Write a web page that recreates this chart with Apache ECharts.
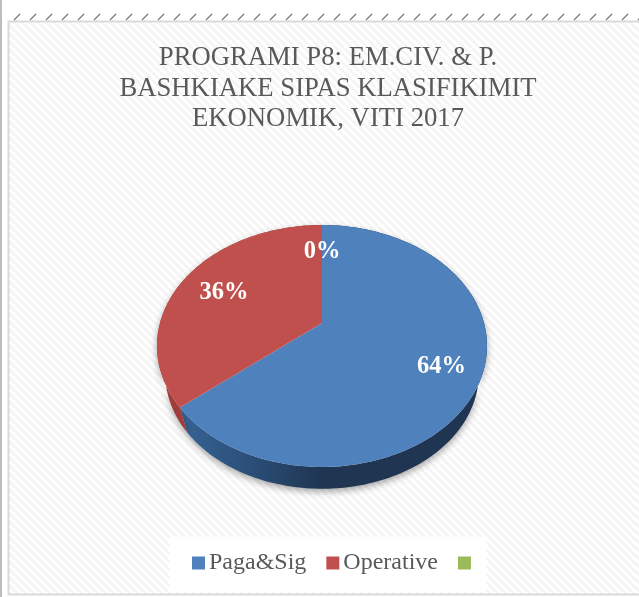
<!DOCTYPE html>
<html>
<head>
<meta charset="utf-8">
<style>
  html, body { margin: 0; padding: 0; background: #fff; }
  #chart { width: 639px; height: 597px; }
</style>
<script src="https://cdn.jsdelivr.net/npm/echarts@6/dist/echarts.min.js"></script>
</head>
<body>
<div id="chart"></div>
<script>
const titleLines = ['PROGRAMI P8: EM.CIV. & P.', 'BASHKIAKE SIPAS KLASIFIKIMIT', 'EKONOMIK, VITI 2017']
const categories = ['Paga&Sig', 'Operative', ' ']
const values = [64, 36, 0]
const colors = ['#4f81bd', '#c0504d', '#9bbb59']
const total = values.reduce((a, b) => a + b, 0)
const serif = '"Liberation Serif", "Times New Roman", serif'

// tilted pie: circle angle -> screen point, apex sits above the middle of the ellipse
const apex = [322, 323]
const tilt = { a: 162, b: 116.6, p: -0.19 }
const wall = { scale: 0.95, drop: 29 }
const labelRadius = [[0.75, 0.8], [0.723, 0.65], [0.62, 0.73]]

const project = (angle) => {
  const u = Math.sin(angle)
  const v = -Math.cos(angle)
  const d = 1 + tilt.p * v
  return [apex[0] + tilt.a * u / d, apex[1] + tilt.b * v / d]
}
const lower = (pt) => [
  apex[0] + (pt[0] - apex[0]) * wall.scale,
  apex[1] + (pt[1] - apex[1]) * wall.scale + wall.drop
]
const arc = (from, to) => {
  const steps = Math.max(1, Math.ceil((to - from) / 0.02))
  const pts = []
  for (let i = 0; i <= steps; i++) pts.push(project(from + (to - from) * i / steps))
  return pts
}

const wallColors = [
  [{ offset: 0, color: '#3a6a9f' }, { offset: 0.3, color: '#2a4d75' }, { offset: 0.5, color: '#1f3552' }, { offset: 1, color: '#1f3552' }],
  [{ offset: 0, color: '#a03c3a' }, { offset: 1, color: '#a03c3a' }],
  [{ offset: 0, color: '#7d9a45' }, { offset: 1, color: '#7d9a45' }]
]

const makeSeries = (idx) => ({
  name: categories[idx],
  type: 'custom',
  coordinateSystem: 'none',
  silent: true,
  animation: false,
  itemStyle: { color: colors[idx] },
  data: [[values[idx]]],
  renderItem: (params, api) => {
    const before = values.slice(0, idx).reduce((a, b) => a + b, 0)
    const from = before / total * Math.PI * 2
    const to = (before + api.value(0)) / total * Math.PI * 2
    const rim = arc(from, to)
    const mid = (from + to) / 2
    const tip = project(mid)
    const f = labelRadius[idx]
    return {
      type: 'group',
      children: [
        {
          type: 'polygon',
          z2: 1,
          shape: { points: rim.concat(rim.map(lower).reverse()) },
          style: {
            fill: new echarts.graphic.LinearGradient(157, 0, 486, 0, wallColors[idx], true),
            shadowBlur: 7,
            shadowOffsetY: 3,
            shadowColor: 'rgba(0,0,0,0.35)'
          }
        },
        {
          type: 'polygon',
          z2: 2,
          shape: { points: [apex].concat(rim) },
          style: { fill: colors[idx] }
        },
        {
          type: 'text',
          z2: 3,
          style: {
            text: Math.round(api.value(0) / total * 100) + '%',
            x: apex[0] + (tip[0] - apex[0]) * f[0],
            y: apex[1] + (tip[1] - apex[1]) * f[1],
            fill: '#fff',
            font: 'bold 24.5px ' + serif,
            align: 'center',
            verticalAlign: 'middle'
          }
        }
      ]
    }
  }
})

// diagonal stripes of the chart area
const stripes = document.createElement('canvas')
stripes.width = 8
stripes.height = 8
const sc = stripes.getContext('2d')
sc.fillStyle = '#ffffff'
sc.fillRect(0, 0, 8, 8)
sc.strokeStyle = '#f5f5f5'
sc.lineWidth = 2.8
for (let i = -8; i <= 8; i += 8) {
  sc.beginPath()
  sc.moveTo(i, 0)
  sc.lineTo(i + 8, 8)
  sc.stroke()
}

const ticks = []
for (let x = 14; x < 639; x += 16) {
  ticks.push({
    type: 'line',
    shape: { x1: x, y1: 20, x2: x + 6, y2: 14 },
    style: { stroke: '#777777', lineWidth: 1.3 }
  })
}

const myChart = echarts.init(document.getElementById('chart'), null, { renderer: 'canvas' })
myChart.setOption({
  animation: false,
  backgroundColor: '#fff',
  color: colors,
  title: {
    text: titleLines.join('\n'),
    left: 323,
    top: 38,
    textAlign: 'center',
    textStyle: {
      fontFamily: serif,
      fontSize: 26.7,
      fontWeight: 'normal',
      color: '#595959',
      lineHeight: 30.5
    }
  },
  legend: {
    left: 170,
    top: 537,
    padding: [14, 5, 17, 22],
    backgroundColor: 'rgba(255,255,255,0.92)',
    itemWidth: 13,
    itemHeight: 13,
    itemGap: 20,
    icon: 'rect',
    selectedMode: false,
    data: categories,
    textStyle: {
      fontFamily: serif,
      fontSize: 24,
      color: '#595959',
      padding: [0, 0, 0, -1]
    }
  },
  graphic: [
    { type: 'rect', silent: true, shape: { x: 0, y: 0, width: 2, height: 597 }, style: { fill: '#bdbdbd' } },
    {
      type: 'rect',
      silent: true,
      shape: { x: 8.5, y: 21.5, width: 640, height: 573 },
      style: { fill: { image: stripes, repeat: 'repeat' }, stroke: '#d9d9d9', lineWidth: 2 }
    },
    { type: 'group', silent: true, children: ticks }
  ],
  series: categories.map((c, i) => makeSeries(i))
})
</script>
</body>
</html>
